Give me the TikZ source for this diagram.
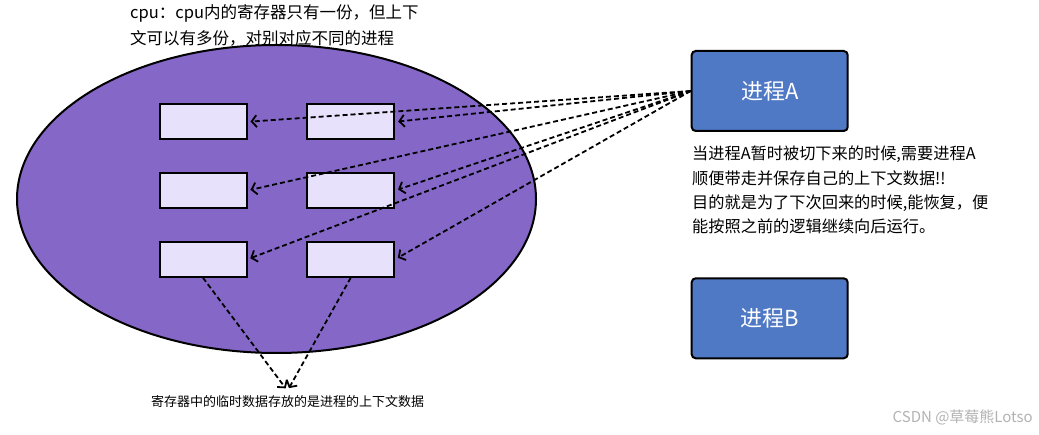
\documentclass[tikz,border=0pt]{standalone}
\usepackage{fontspec}
\setmainfont{Noto Sans CJK SC}
\usetikzlibrary{shapes.geometric, arrows.meta}
\definecolor{cpupurple}{HTML}{8567C8}
\definecolor{reglilac}{HTML}{E8E1FB}
\definecolor{procblue}{HTML}{4F78C5}
\tikzset{
  regbox/.style={draw=black, line width=2pt, fill=reglilac, minimum width=87pt, minimum height=35pt, inner sep=0pt},
  procbox/.style={draw=black, line width=2pt, fill=procblue, rounded corners=4pt, minimum width=156pt, minimum height=80pt, inner sep=0pt, text=white, font=\fontsize{22}{26}\selectfont},
  ctxarrow/.style={-{Straight Barb[length=5pt, width=12pt, line width=1.8pt]}, dash pattern=on 5pt off 3pt, line width=1.8pt, shorten >=3pt},
}
\begin{document}
\begin{tikzpicture}[x=1pt, y=-1pt]
\useasboundingbox (0,0) rectangle (1039,435);
% cpu with its registers
\node[ellipse, draw=black, line width=2pt, fill=cpupurple, minimum width=519pt, minimum height=308pt, inner sep=0pt] (cpu) at (276.5,199){};
\node[regbox] (r11) at (203,121.8){};
\node[regbox] (r12) at (350.7,121.8){};
\node[regbox] (r21) at (203,190.5){};
\node[regbox] (r22) at (350.7,190.5){};
\node[regbox] (r31) at (203,259.3){};
\node[regbox] (r32) at (350.7,259.3){};
\node[anchor=north west, inner sep=0pt, align=left, font=\fontsize{16.5}{26}\selectfont] (cpunote) at (130,4){cpu：cpu内的寄存器只有一份，但上下\\文可以有多份，对别对应不同的进程};
% processes
\node[procbox] (procA) at (769.7,91){进程A};
\node[procbox] (procB) at (769.7,318.3){进程B};
\node[anchor=north west, inner sep=0pt, align=left, font=\fontsize{16.2}{24.2}\selectfont] (anote) at (692,146){当进程A暂时被切下来的时候,需要进程A\\顺便带走并保存自己的上下文数据!!\\目的就是为了下次回来的时候,能恢复，便\\能按照之前的逻辑继续向后运行。};
\draw[ctxarrow] (procA.west) -- (r11.east);
\draw[ctxarrow] (procA.west) -- (r12.east);
\draw[ctxarrow] (procA.west) -- (r21.east);
\draw[ctxarrow] (procA.west) -- (r22.east);
\draw[ctxarrow] (procA.west) -- (r31.east);
\draw[ctxarrow] (procA.west) -- (r32.east);
% registers hold context data
\node[inner sep=0pt, font=\fontsize{13}{16}\selectfont] (ctxnote) at (287.5,402){寄存器中的临时数据存放的是进程的上下文数据};
\draw[ctxarrow] (r31.south) -- ([yshift=5pt]ctxnote.north);
\draw[ctxarrow] (r32.south) -- ([yshift=5pt]ctxnote.north);
\node[anchor=east, inner sep=0pt, text=black!30, font=\fontsize{15}{18}\selectfont] (mark) at (1033,417){CSDN @草莓熊Lotso};
\end{tikzpicture}
\end{document}
